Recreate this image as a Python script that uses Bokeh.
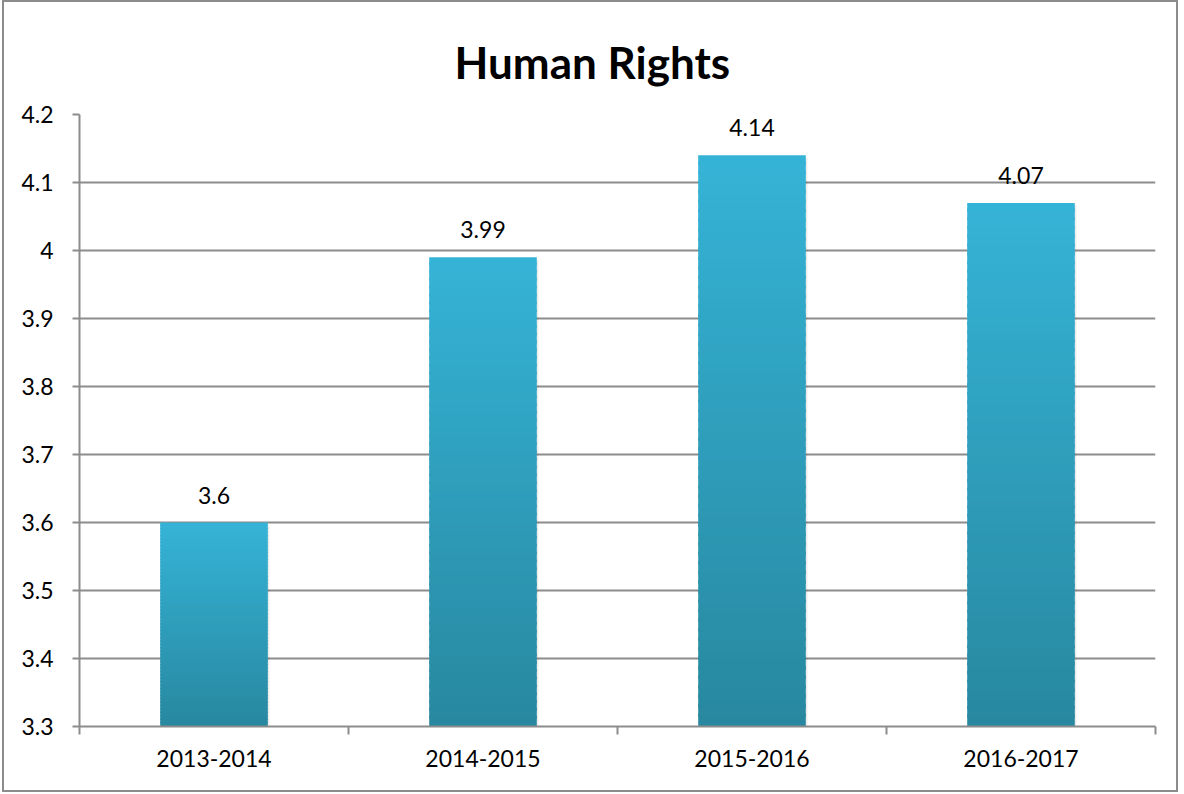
from bokeh.plotting import figure
from bokeh.models import FixedTicker, Range1d, ColumnDataSource
from bokeh.embed import file_html
from bokeh.resources import INLINE
from bokeh.core.properties import value

title_text = "Human Rights"
categories = ["2013-2014", "2014-2015", "2015-2016", "2016-2017"]
values = [3.6, 3.99, 4.14, 4.07]
value_labels = ["3.6", "3.99", "4.14", "4.07"]
y_ticks = [3.3, 3.4, 3.5, 3.6, 3.7, 3.8, 3.9, 4.0, 4.1, 4.2]
y_tick_labels = ["3.3", "3.4", "3.5", "3.6", "3.7", "3.8", "3.9", "4", "4.1", "4.2"]

Y_MIN, Y_MAX = 3.3, 4.2
FONT = "Lato"
TOP_COL = (0x35, 0xB3, 0xD6)
BOT_COL = (0x28, 0x88, 0xA0)

p = figure(width=1176, height=792, output_backend="svg", toolbar_location=None,
           x_range=Range1d(0, len(categories)), y_range=Range1d(Y_MIN, Y_MAX),
           min_border_left=75, min_border_right=25, min_border_top=112, min_border_bottom=68,
           title=title_text)
p.styles = {"border": "2px solid #8c8c8c", "margin-left": "2px"}
p.outline_line_color = None
p.background_fill_color = "white"
p.border_fill_color = "white"

p.title.align = "left"
p.title.offset = 375
p.title.vertical_align = "top"
p.title.text_font = FONT
p.title.text_font_size = "44px"
p.title.text_font_style = "bold"
p.title.text_color = "black"
p.title.standoff = 50

# gradient bars built from the data values
n = 60
left, right, bottom, top, colors = [], [], [], [], []
for i, v in enumerate(values):
    xc = i + 0.5
    h = (v - Y_MIN) / n
    for k in range(n):
        b = Y_MIN + k * h
        t = b + h * 1.35
        if t > v:
            t = v
        f = k / (n - 1)
        c = tuple(int(round(BOT_COL[j] + (TOP_COL[j] - BOT_COL[j]) * f)) for j in range(3))
        left.append(xc - 0.2)
        right.append(xc + 0.2)
        bottom.append(b)
        top.append(t)
        colors.append("#%02x%02x%02x" % c)

# soft shadow on the right
sh = ColumnDataSource(dict(l=[i + 0.5 + 0.2 for i in range(len(values))],
                           r=[i + 0.5 + 0.206 for i in range(len(values))],
                           b=[Y_MIN] * len(values), t=[v - 0.004 for v in values]))
p.quad(left="l", right="r", bottom="b", top="t", source=sh, fill_color="#000000",
       fill_alpha=0.08, line_color=None)

p.quad(left=left, right=right, bottom=bottom, top=top, fill_color=colors, line_color=None)

lab = ColumnDataSource(dict(x=[i + 0.5 for i in range(len(values))], y=values, t=value_labels))
p.text(x="x", y="y", text="t", source=lab, text_align="center", text_baseline="bottom",
       y_offset=-19, text_font=value(FONT), text_font_size="23px", text_color="black")

# grid
p.xgrid.grid_line_color = None
p.ygrid.ticker = FixedTicker(ticks=y_ticks)
p.ygrid.grid_line_color = "#8c8c8c"
p.ygrid.grid_line_width = 2

# y axis
p.yaxis.ticker = FixedTicker(ticks=y_ticks)
p.yaxis.major_label_overrides = {t: s for t, s in zip(y_ticks, y_tick_labels)}
p.yaxis.axis_line_color = "#8c8c8c"
p.yaxis.axis_line_width = 2
p.yaxis.major_tick_line_color = "#8c8c8c"
p.yaxis.major_tick_line_width = 2
p.yaxis.major_tick_out = 7
p.yaxis.major_tick_in = 0
p.yaxis.minor_tick_line_color = None
p.yaxis.major_label_standoff = 19
p.yaxis.major_label_text_font = FONT
p.yaxis.major_label_text_font_size = "23px"
p.yaxis.major_label_text_color = "black"

# x axis
centers = [i + 0.5 for i in range(len(categories))]
bounds = [float(i) for i in range(len(categories) + 1)]
p.xaxis.ticker = FixedTicker(ticks=centers, minor_ticks=bounds)
p.xaxis.major_label_overrides = {c: s for c, s in zip(centers, categories)}
p.xaxis.axis_line_color = "#8c8c8c"
p.xaxis.axis_line_width = 2
p.xaxis.major_tick_line_color = None
p.xaxis.minor_tick_line_color = "#8c8c8c"
p.xaxis.minor_tick_line_width = 2
p.xaxis.minor_tick_out = 8
p.xaxis.minor_tick_in = 0
p.xaxis.major_label_standoff = 15
p.xaxis.major_label_text_font = FONT
p.xaxis.major_label_text_font_size = "23px"
p.xaxis.major_label_text_color = "black"

open("out.html", "w").write(file_html(p, INLINE))
